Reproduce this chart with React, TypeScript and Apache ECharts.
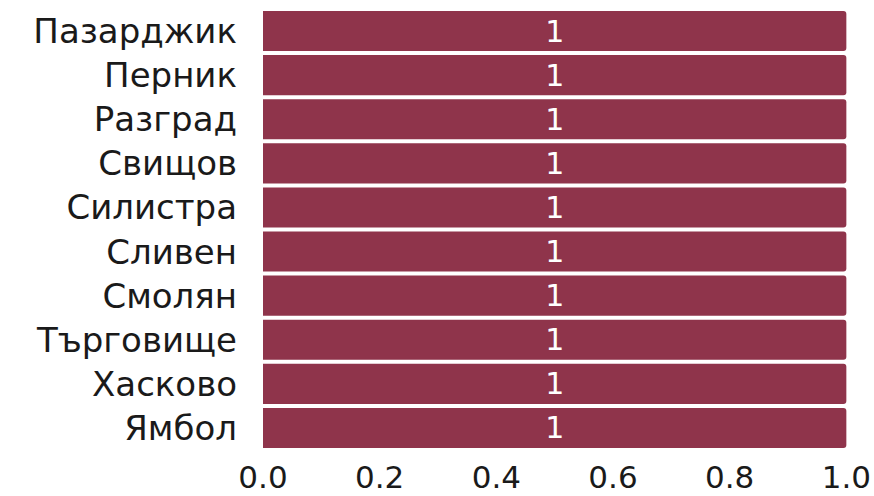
import React, { useEffect, useRef } from "react";
import * as echarts from "echarts";

const categories = ["Пазарджик", "Перник", "Разград", "Свищов", "Силистра", "Сливен", "Смолян", "Търговище", "Хасково", "Ямбол"];
const values = [1, 1, 1, 1, 1, 1, 1, 1, 1, 1];

export default function App() {
  const ref = useRef<HTMLDivElement>(null);
  useEffect(() => {
    const chart = echarts.init(ref.current!, null, { renderer: "svg" });
    chart.setOption({
      animation: false,
      grid: { left: 263, right: 25, top: 9, bottom: 46, containLabel: false },
      xAxis: {
        type: "value",
        min: 0,
        max: 1,
        interval: 0.2,
        splitLine: { show: false },
        axisLine: { show: false },
        axisTick: { show: false },
        axisLabel: {
          color: "#1a1a1a",
          fontSize: 31,
          lineHeight: 34,
          fontFamily: "DejaVu Sans",
          margin: 10,
          formatter: (v: number) => v.toFixed(1),
        },
      },
      yAxis: {
        type: "category",
        data: categories,
        inverse: true,
        axisLine: { show: false },
        axisTick: { show: false },
        axisLabel: {
          color: "#1a1a1a",
          fontSize: 34,
          lineHeight: 40,
          interval: 0,
          fontFamily: "DejaVu Sans",
          margin: 26,
        },
      },
      series: [
        {
          type: "bar",
          data: values,
          barCategoryGap: "9%",
          itemStyle: { color: "#8F344B", borderRadius: [0, 3, 3, 0] },
          label: {
            show: true,
            position: "inside",
            color: "#ffffff",
            fontSize: 30,
            fontFamily: "DejaVu Sans",
          },
        },
      ],
    });
    return () => chart.dispose();
  }, []);
  return <div ref={ref} style={{ width: 874, height: 496, position: "absolute", left: 0, top: 0 }} />;
}
